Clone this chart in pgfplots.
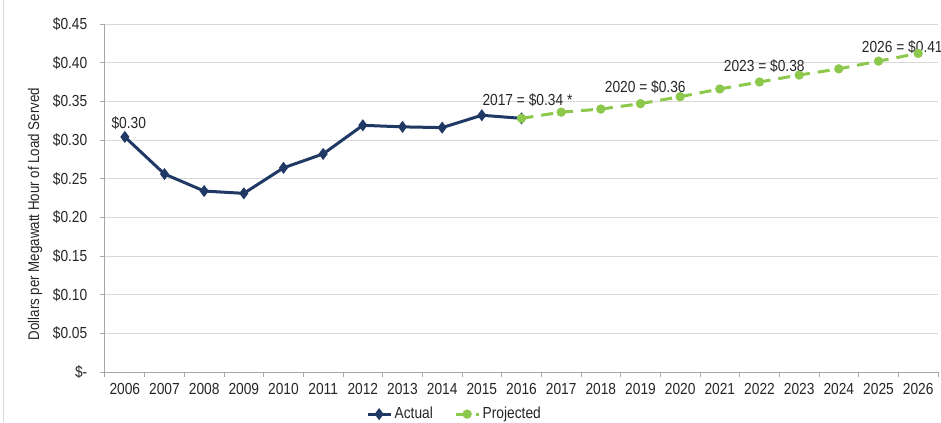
\documentclass[border=0pt]{standalone}
\usepackage{fontspec}
\setmainfont{Liberation Sans}[FakeStretch=0.86]
\usepackage{pgfplots}
\pgfplotsset{compat=1.18}
\definecolor{navy}{HTML}{1F3864}
\definecolor{lgreen}{HTML}{8CC84B}
\definecolor{txt}{HTML}{262626}
\definecolor{gridc}{HTML}{D9D9D9}
\definecolor{axl}{HTML}{A6A6A6}
\begin{document}
\begin{tikzpicture}
\begin{axis}[
  at={(0,0)}, anchor=south west,
  scale only axis, width=624.75pt, height=261pt,
  xmin=-0.5, xmax=20.5, ymin=0, ymax=0.45,
  axis x line*=bottom, axis y line*=left,
  axis line style={axl, line width=0.75pt},
  xtick={0,...,20},
  xticklabels={2006,2007,2008,2009,2010,2011,2012,2013,2014,2015,2016,2017,2018,2019,2020,2021,2022,2023,2024,2025,2026},
  minor xtick={-0.5,0.5,...,20.5},
  ytick={0,0.05,0.1,0.15,0.2,0.25,0.3,0.35,0.4,0.45},
  yticklabels={\$-,\$0.05,\$0.10,\$0.15,\$0.20,\$0.25,\$0.30,\$0.35,\$0.40,\$0.45},
  tick align=outside,
  xtick style={draw=none},
  minor x tick style={draw=axl, line width=0.75pt},
  minor tick length=3.75pt,
  ytick style={draw=axl, line width=0.75pt},
  major tick length=3.75pt,
  ymajorgrids, grid style={gridc, line width=0.75pt},
  tick label style={font=\fontsize{12}{14}\selectfont, text=txt},
  xticklabel style={yshift=-1pt},
  yticklabel style={xshift=-6pt},
  ylabel={Dollars per Megawatt Hour of Load Served},
  ylabel style={at={(axis description cs:-0.084,0.454)}, anchor=center, font=\fontsize{11.6}{14}\selectfont, text=txt},
  legend style={at={(axis description cs:0.42,-0.121)}, anchor=center, draw=none, fill=none,
    font=\fontsize{12}{14}\selectfont, text=txt,
    /tikz/every even column/.append style={column sep=14pt}},
  legend columns=2,
  clip=false,
]
\addplot[navy, line width=2.25pt, mark=diamond*, mark size=2.7pt, mark options={solid}] coordinates {
  (0,0.304) (1,0.256) (2,0.234) (3,0.231) (4,0.264) (5,0.282)
  (6,0.319) (7,0.317) (8,0.316) (9,0.332) (10,0.328)
};
\addlegendentry{Actual}
\addplot[lgreen, line width=2.25pt, dash pattern=on 9pt off 6pt, mark=*, mark size=2.3pt, mark options={solid}] coordinates {
  (10,0.328) (11,0.336) (12,0.340) (13,0.347) (14,0.356) (15,0.366)
  (16,0.375) (17,0.384) (18,0.392) (19,0.402) (20,0.412)
};
\addlegendentry{Projected}
\node[font=\fontsize{12}{14}\selectfont, text=txt] at (axis cs:0.1,0.322) {\$0.30};
\node[font=\fontsize{12}{14}\selectfont, text=txt] at (axis cs:10.15,0.352) {2017 = \$0.34 *};
\node[font=\fontsize{12}{14}\selectfont, text=txt] at (axis cs:13.12,0.369) {2020 = \$0.36};
\node[font=\fontsize{12}{14}\selectfont, text=txt] at (axis cs:16.12,0.396) {2023 = \$0.38};
\node[font=\fontsize{12}{14}\selectfont, text=txt] at (axis cs:19.6,0.420) {2026 = \$0.41};
\end{axis}
\draw[gridc, line width=0.75pt] (-75.75pt,-37.5pt) -- (-75.75pt,279pt);
\pgfresetboundingbox
\path (-78.75pt,-37.5pt) rectangle (627pt,279pt);
\end{tikzpicture}
\end{document}
